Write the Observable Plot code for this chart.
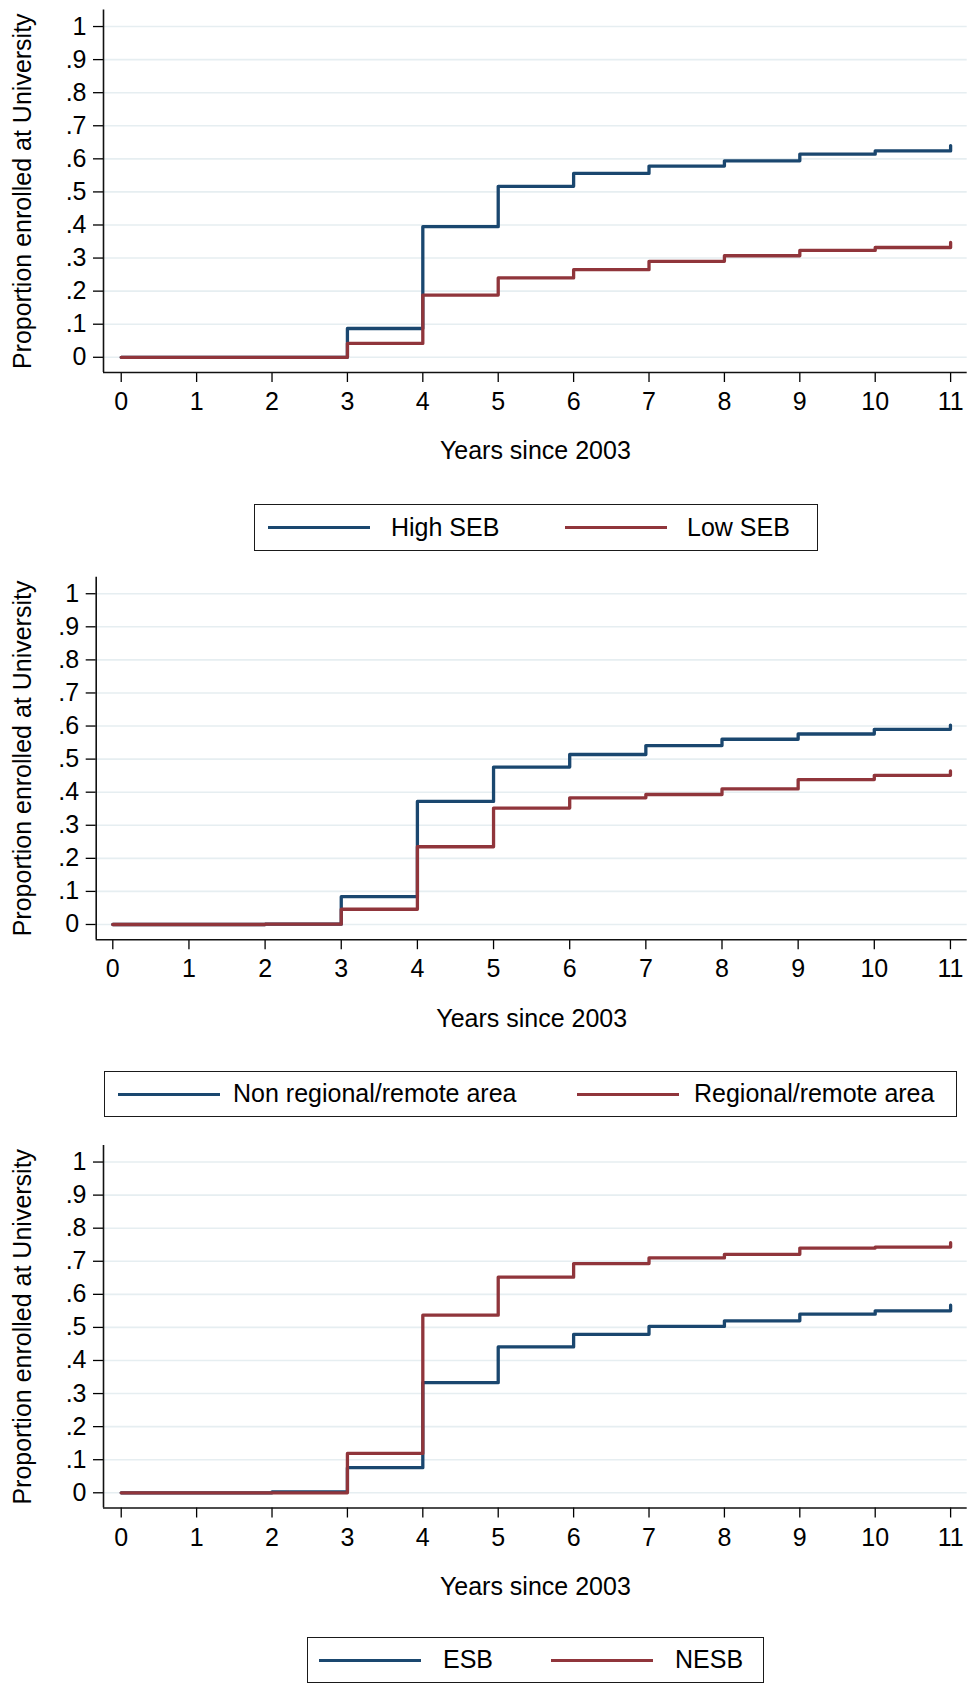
<!DOCTYPE html>
<html>
<head>
<meta charset="utf-8">
<script src="https://cdn.jsdelivr.net/npm/d3@7"></script>
<script src="https://cdn.jsdelivr.net/npm/@observablehq/plot@0.6"></script>
<style>
  body { margin: 0; background: #fff; font-family: "Liberation Sans", Arial, sans-serif; }
  #page { position: relative; width: 970px; height: 1684px; overflow: hidden; background: #fff; }
  .panel { position: absolute; left: 0; }
  .legend { position: absolute; border: 1.5px solid #1a1a1a; box-sizing: border-box; background: #fff; }
  .legend .sw { position: absolute; height: 3px; top: 50%; margin-top: -1.5px; }
  .legend .lb { position: absolute; top: 50%; transform: translateY(-52%); font-size: 25px; color: #000; white-space: nowrap; line-height: 1; }
</style>
</head>
<body>
<div id="page"></div>
<script>
// ---- Data ----
const years = [0, 1, 2, 3, 4, 5, 6, 7, 8, 9, 10, 11];
const yTicks = [0, 0.1, 0.2, 0.3, 0.4, 0.5, 0.6, 0.7, 0.8, 0.9, 1];
const xTicks = [0, 1, 2, 3, 4, 5, 6, 7, 8, 9, 10, 11];
const yLabel = "Proportion enrolled at University";
const xLabel = "Years since 2003";

// Panel 1: socio-economic background
const p1Names = ["High SEB", "Low SEB"];
const p1High = [0, 0, 0, 0.087, 0.395, 0.517, 0.556, 0.578, 0.594, 0.614, 0.624, 0.640];
const p1Low  = [0, 0, 0, 0.042, 0.188, 0.240, 0.265, 0.290, 0.307, 0.323, 0.332, 0.347];

// Panel 2: regional / remote
const p2Names = ["Non regional/remote area", "Regional/remote area"];
const p2NonRegional = [0, 0, 0.001, 0.084, 0.372, 0.476, 0.514, 0.541, 0.560, 0.576, 0.590, 0.603];
const p2Regional    = [0, 0, 0.001, 0.046, 0.235, 0.352, 0.383, 0.393, 0.410, 0.438, 0.451, 0.464];

// Panel 3: language background
const p3Names = ["ESB", "NESB"];
const p3ESB  = [0, 0, 0.003, 0.076, 0.333, 0.441, 0.479, 0.503, 0.520, 0.540, 0.550, 0.567];
const p3NESB = [0, 0, 0, 0.119, 0.537, 0.652, 0.693, 0.710, 0.721, 0.740, 0.743, 0.756];

const colors = ["#1a476f", "#90353b"];

const fmtY = d => d === 0 ? "0" : d === 1 ? "1" : d3.format(".1f")(d).replace(/^0/, "");

function rowsFor(names, seriesList) {
  const rows = [];
  names.forEach((n, i) => {
    seriesList[i].forEach((v, j) => rows.push({series: n, x: years[j], y: v}));
  });
  return rows;
}

function makePanel(cfg) {
  const rows = rowsFor(cfg.names, cfg.values);
  const chart = Plot.plot({
    width: 970,
    height: cfg.height,
    marginTop: cfg.marginTop,
    marginBottom: cfg.height - cfg.marginTop - 362.5,
    marginLeft: cfg.marginLeft,
    marginRight: 3.3,
    style: {fontFamily: '"Liberation Sans", Arial, sans-serif', fontSize: "25px", color: "#000", background: "#fff"},
    x: {domain: cfg.xDomain},
    y: {domain: cfg.yDomain},
    color: {domain: cfg.names, range: colors},
    marks: [
      Plot.gridY(yTicks, {stroke: "#e6eef1", strokeOpacity: 1, strokeWidth: 1.6}),
      Plot.axisY(yTicks, {tickSize: 10, tickPadding: 7, tickFormat: fmtY, label: null, fontSize: 25, strokeWidth: 1.3}),
      Plot.axisX(xTicks, {tickSize: 10, tickPadding: 10, tickFormat: d => String(d), label: null, fontSize: 25, strokeWidth: 1.3}),
      Plot.ruleX([cfg.xDomain[0]], {stroke: "#111", strokeWidth: 1.6}),
      Plot.ruleY([cfg.yDomain[0]], {stroke: "#111", strokeWidth: 1.6}),
      Plot.line(rows, {x: "x", y: "y", z: "series", stroke: "series", curve: "step-after", strokeWidth: 3.3}),
      Plot.text([yLabel], {frameAnchor: "left", textAnchor: "middle", rotate: -90, dx: 22.5 - cfg.marginLeft, fontSize: 25, fill: "#000"}),
      Plot.text([xLabel], {frameAnchor: "bottom", textAnchor: "middle", dy: cfg.xLabelDy, lineAnchor: "middle", fontSize: 25, fill: "#000"})
    ]
  });
  const wrap = document.createElement("div");
  wrap.className = "panel";
  wrap.style.top = cfg.top + "px";
  wrap.appendChild(chart);
  document.getElementById("page").appendChild(wrap);
}

function makeLegend(cfg) {
  const box = document.createElement("div");
  box.className = "legend";
  box.style.left = cfg.left + "px";
  box.style.top = cfg.top + "px";
  box.style.width = cfg.width + "px";
  box.style.height = cfg.height + "px";
  cfg.names.forEach((n, i) => {
    const sw = document.createElement("div");
    sw.className = "sw";
    sw.style.left = (cfg.items[i][0] - cfg.left) + "px";
    sw.style.width = "102px";
    sw.style.background = colors[i];
    box.appendChild(sw);
    const lb = document.createElement("div");
    lb.className = "lb";
    lb.style.left = (cfg.items[i][1] - cfg.left) + "px";
    lb.textContent = n;
    box.appendChild(lb);
  });
  document.getElementById("page").appendChild(box);
}

makePanel({top: 0, height: 480, marginTop: 9.5, marginLeft: 103,
  xDomain: [-0.235, 11.22], yDomain: [-0.046, 1.05], xLabelDy: 78,
  names: p1Names, values: [p1High, p1Low]});
makeLegend({left: 254, top: 504, width: 564, height: 47,
  names: p1Names, items: [[267, 390], [564, 686]]});

makePanel({top: 567, height: 470, marginTop: 9.7, marginLeft: 95.7,
  xDomain: [-0.218, 11.22], yDomain: [-0.046, 1.05], xLabelDy: 79,
  names: p2Names, values: [p2NonRegional, p2Regional]});
makeLegend({left: 104, top: 1071, width: 853, height: 46,
  names: p2Names, items: [[117, 232], [576, 693]]});

makePanel({top: 1135, height: 470, marginTop: 10, marginLeft: 103,
  xDomain: [-0.235, 11.22], yDomain: [-0.046, 1.05], xLabelDy: 79,
  names: p3Names, values: [p3ESB, p3NESB]});
makeLegend({left: 307, top: 1637, width: 457, height: 46,
  names: p3Names, items: [[318, 442], [550, 674]]});
</script>
</body>
</html>
